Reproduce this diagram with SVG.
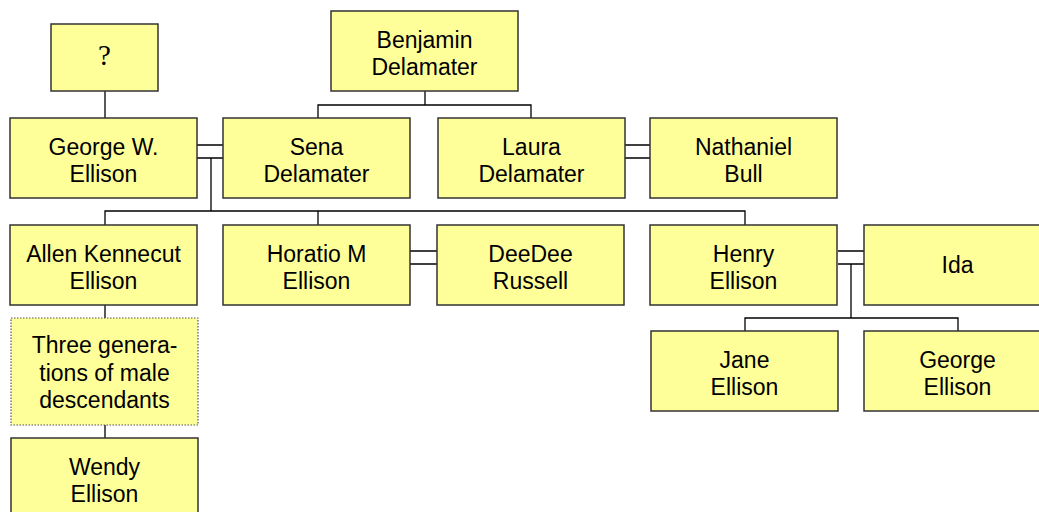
<svg xmlns="http://www.w3.org/2000/svg" width="1039" height="512" viewBox="0 0 1039 512">
<style>
.box{fill:#FFFF99;stroke:#333;stroke-width:1.5}
.dot{fill:#FFFF99;stroke:#555;stroke-width:1.2;stroke-dasharray:1.5 1.5}
.t{font-family:"Liberation Sans",Arial,sans-serif;font-size:23px;fill:#000;text-anchor:middle}
.q{font-family:"Liberation Serif","Times New Roman",serif;font-size:29px;fill:#000;text-anchor:middle}
.c{fill:none;stroke:#000;stroke-width:1.3}
</style>
<rect width="1039" height="512" fill="#fff"/>
<g id="connectors">
<path class="c" d="M105 91V118"/>
<path class="c" d="M425 91V105M318 118V105H531V118"/>
<path class="c" d="M197 145H223M197 158H223"/>
<path class="c" d="M211 158V211M105 225V211H745V225M318 211V225"/>
<path class="c" d="M625 145H650M625 158H650"/>
<path class="c" d="M410 251H437M410 264H437"/>
<path class="c" d="M838 251H864M838 264H864"/>
<path class="c" d="M851 264V318M745 331V318H958V331"/>
<path class="c" d="M105 305V318M105 425V438"/>
</g>
<g id="unknown"><rect class="box" x="51" y="24" width="107" height="67"/><text class="q" x="104.5" y="65">?</text></g>
<g id="benjamin"><rect class="box" x="331" y="11" width="187" height="80"/><text class="t" x="424.5" y="47.5">Benjamin</text><text class="t" x="424.5" y="75">Delamater</text></g>
<g id="george-w"><rect class="box" x="10" y="118" width="187" height="80"/><text class="t" x="103.5" y="154.5">George W.</text><text class="t" x="103.5" y="182">Ellison</text></g>
<g id="sena"><rect class="box" x="223" y="118" width="187" height="80"/><text class="t" x="316.5" y="154.5">Sena</text><text class="t" x="316.5" y="182">Delamater</text></g>
<g id="laura"><rect class="box" x="438" y="118" width="187" height="80"/><text class="t" x="531.5" y="154.5">Laura</text><text class="t" x="531.5" y="182">Delamater</text></g>
<g id="nathaniel"><rect class="box" x="650" y="118" width="187" height="80"/><text class="t" x="743.5" y="154.5">Nathaniel</text><text class="t" x="743.5" y="182">Bull</text></g>
<g id="allen"><rect class="box" x="10" y="225" width="187" height="80"/><text class="t" x="103.5" y="261.5">Allen Kennecut</text><text class="t" x="103.5" y="289">Ellison</text></g>
<g id="horatio"><rect class="box" x="223" y="225" width="187" height="80"/><text class="t" x="316.5" y="261.5">Horatio M</text><text class="t" x="316.5" y="289">Ellison</text></g>
<g id="deedee"><rect class="box" x="437" y="225" width="187" height="80"/><text class="t" x="530.5" y="261.5">DeeDee</text><text class="t" x="530.5" y="289">Russell</text></g>
<g id="henry"><rect class="box" x="650" y="225" width="187" height="80"/><text class="t" x="743.5" y="261.5">Henry</text><text class="t" x="743.5" y="289">Ellison</text></g>
<g id="ida"><rect class="box" x="864" y="225" width="187" height="80"/><text class="t" x="957.5" y="273">Ida</text></g>
<g id="three-generations"><rect class="dot" x="11" y="318" width="187" height="107"/><text class="t" x="104.5" y="353">Three genera-</text><text class="t" x="104.5" y="381">tions of male</text><text class="t" x="104.5" y="408">descendants</text></g>
<g id="wendy"><rect class="box" x="11" y="438" width="187" height="80"/><text class="t" x="104.5" y="474.5">Wendy</text><text class="t" x="104.5" y="502">Ellison</text></g>
<g id="jane"><rect class="box" x="651" y="331" width="187" height="80"/><text class="t" x="744.5" y="367.5">Jane</text><text class="t" x="744.5" y="395">Ellison</text></g>
<g id="george"><rect class="box" x="864" y="331" width="187" height="80"/><text class="t" x="957.5" y="367.5">George</text><text class="t" x="957.5" y="395">Ellison</text></g>
</svg>
